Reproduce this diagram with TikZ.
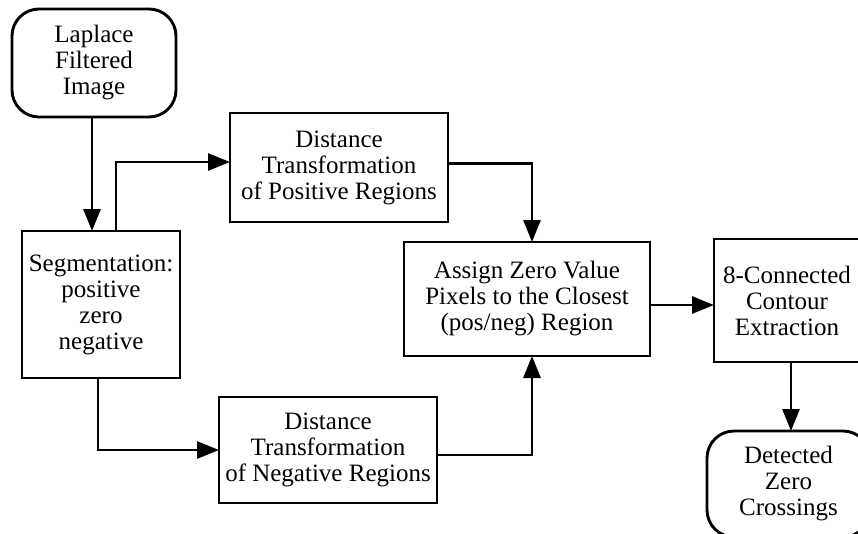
\documentclass[tikz,border=0pt]{standalone}
\usepackage{fontspec}
\setmainfont{Liberation Serif}
\usetikzlibrary{arrows.meta}
\begin{document}
\begin{tikzpicture}[x=1pt,y=-1pt,
  box/.style={draw,line width=2.9pt,rectangle,inner sep=0pt,outer sep=0pt,align=center,
    font=\fontsize{25}{26}\selectfont},
  rbox/.style={box,rounded corners=27pt},
  arr/.style={line width=2.9pt,-{Triangle[length=22pt,width=17pt]}}]
\useasboundingbox (0,0) rectangle (858,533);
\clip (0,0) rectangle (858,533);
\node[rbox,minimum width=164pt,minimum height=108pt] (lap) at (94,63) {Laplace\\Filtered\\Image};
\node[box,minimum width=158pt,minimum height=147pt] (seg) at (101,304.5) {Segmentation:\\positive\\zero\\negative};
\node[box,minimum width=218pt,minimum height=109pt] (pos) at (339,167.5) {Distance\\Transformation\\of Positive Regions};
\node[box,minimum width=218pt,minimum height=106pt] (neg) at (328,450) {Distance\\Transformation\\of Negative Regions};
\node[box,minimum width=246pt,minimum height=114pt] (asg) at (527,299) {Assign Zero Value\\Pixels to the Closest\\(pos/neg) Region};
\node[box,minimum width=146pt,minimum height=123pt] (con) at (787,300.5) {8-Connected\\Contour\\Extraction};
\node[rbox,minimum width=163pt,minimum height=106pt] (det) at (788.5,484) {Detected\\Zero\\Crossings};
\draw[arr] ([xshift=-2pt]lap.south) -- ([xshift=-2pt]seg.north -| lap.south);
\draw[arr] ([xshift=15pt]seg.north) |- ([yshift=5.5pt]pos.west);
\draw[arr] ([xshift=-3pt]seg.south) |- (neg.west);
\draw[arr] ([yshift=4pt]pos.east) -| ([xshift=5pt]asg.north);
\draw[arr] ([yshift=-5pt]neg.east) -| ([xshift=5pt]asg.south);
\draw[arr] ([yshift=-6pt]asg.east) -- ([yshift=-6pt]asg.east -| con.west);
\draw[arr] ([xshift=4pt]con.south) -- ([xshift=4pt]con.south |- det.north);
\end{tikzpicture}
\end{document}
